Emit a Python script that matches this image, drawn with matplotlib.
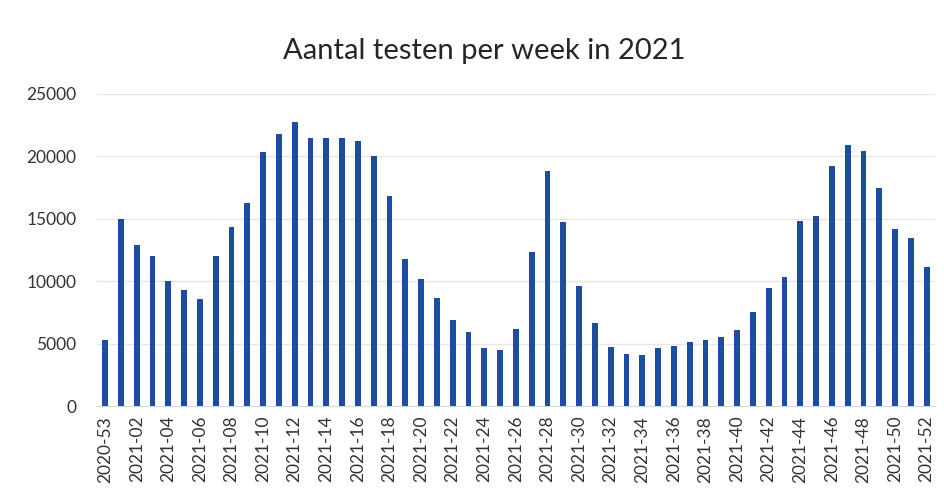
import matplotlib
matplotlib.use("Agg")
import matplotlib.pyplot as plt

# weeks: 2020-53, 2021-01 .. 2021-52
weeks = ["2020-53"] + ["2021-%02d" % w for w in range(1, 53)]

tests = [5300, 15000, 12900, 12000, 10000, 9300, 8600, 12000, 14350, 16300,
         20350, 21800, 22750, 21500, 21500, 21500, 21250, 20000, 16800, 11800,
         10200, 8650, 6900, 5950, 4650, 4500, 6200, 12300, 18800, 14750,
         9600, 6650, 4750, 4200, 4100, 4650, 4800, 5150, 5300, 5550,
         6100, 7550, 9450, 10300, 14850, 15250, 19250, 20900, 20450, 17450,
         14200, 13500, 11150]

yticks = [0, 5000, 10000, 15000, 20000, 25000]

plt.rcParams['font.family'] = ['Lato', 'DejaVu Sans']

fig = plt.figure(figsize=(9.44, 4.97), dpi=100)
ax = fig.add_axes([0.103, 0.183, 0.887, 0.628])

x = list(range(len(weeks)))
ax.bar(x, tests, width=0.36, color='#1c4da1', zorder=3)

ax.set_xlim(-0.5, len(weeks) - 0.5)
ax.set_ylim(0, 25000)
ax.set_yticks(yticks)
ax.set_yticklabels([str(v) for v in yticks], fontsize=12.5, color='#333333')
ax.set_xticks(x[::2])
ax.set_xticklabels(weeks[::2], rotation=90, fontsize=12.5, color='#333333')
ax.tick_params(axis='both', length=0)
ax.tick_params(axis='y', pad=15)
ax.tick_params(axis='x', pad=7)

ax.grid(axis='y', color='#e6e6e6', linewidth=1, zorder=0)
for side in ['top', 'right', 'left']:
    ax.spines[side].set_visible(False)
ax.spines['bottom'].set_color('#d9d9d9')

fig.text(0.513, 0.898, "Aantal testen per week in 2021", ha='center', va='center',
         fontsize=21, color='#262626')

fig.savefig("out.png", dpi=100)
